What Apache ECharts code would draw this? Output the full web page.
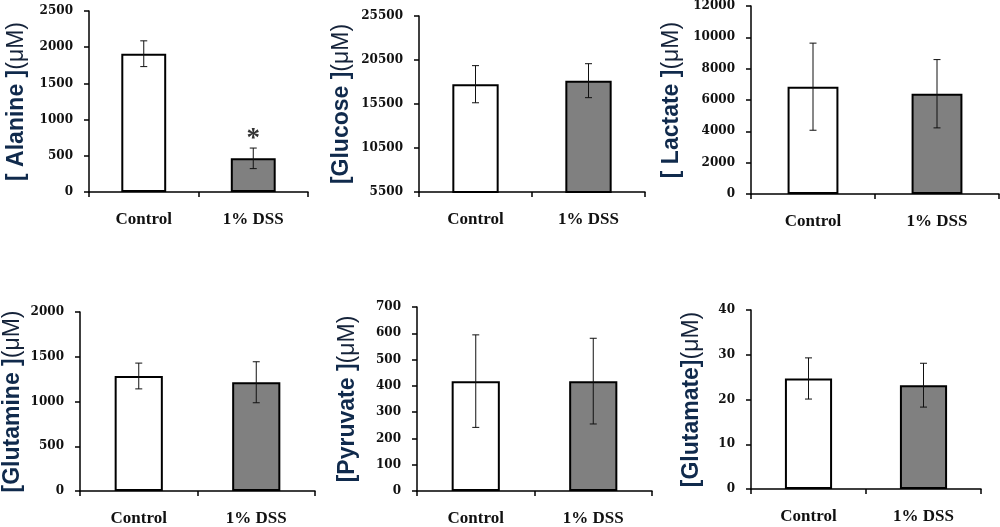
<!DOCTYPE html>
<html><head><meta charset="utf-8">
<script src="https://cdn.jsdelivr.net/npm/echarts@6/dist/echarts.min.js"></script>
<style>html,body{margin:0;padding:0;background:#fff}#c{width:1000px;height:527px}</style>
</head><body><div id="c"></div>
<script>
const categories = ['Control', '1% DSS'];
const axisTitles = ['[ Alanine ]', '[Glucose ]', '[ Lactate ]', '[Glutamine ]', '[Pyruvate ]', '[Glutamate]'];
const unit = '(μM)';
const controlMean = [1910, 17750, 6850, 1285, 418, 24.7];
const controlErr  = [178, 2110, 2780, 144, 176, 4.6];
const dssMean     = [465, 18150, 6400, 1215, 418, 23.2];
const dssErr      = [142, 1930, 2180, 229, 163, 4.9];
const significance = [['', '*'], ['', ''], ['', ''], ['', ''], ['', ''], ['', '']];
const yMin  = [0, 5500, 0, 0, 0, 0];
const yMax  = [2500, 25500, 12000, 2000, 700, 40];
const yStep = [500, 5000, 2000, 500, 100, 10];

const layout = [
  {left: 89,  top: 11,  width: 219, height: 181, gap: 60},
  {left: 419, top: 16,  width: 226, height: 176, gap: 65},
  {left: 751, top: 6,   width: 248, height: 188, gap: 67},
  {left: 80,  top: 312, width: 235, height: 179, gap: 55},
  {left: 417, top: 307, width: 235, height: 189, gap: 57},
  {left: 751, top: 310, width: 230, height: 179, gap: 47}
];
const barFills = ['#ffffff', '#808080'];

const chart = echarts.init(document.getElementById('c'));
const grid = [], xAxis = [], yAxis = [], series = [];
layout.forEach((L, i) => {
  grid.push({left: L.left, top: L.top, width: L.width, height: L.height, containLabel: false});
  xAxis.push({
    type: 'category', gridIndex: i, data: categories,
    axisLine: {lineStyle: {color: '#000', width: 1.5}},
    axisTick: {show: true, length: 5, lineStyle: {color: '#000', width: 1.5}},
    axisLabel: {interval: 0, margin: 19, color: '#111', fontFamily: 'Liberation Serif', fontWeight: 'bold', fontSize: 17}
  });
  yAxis.push({
    type: 'value', gridIndex: i, min: yMin[i], max: yMax[i], interval: yStep[i],
    splitLine: {show: false},
    axisLine: {show: true, lineStyle: {color: '#000', width: 1.5}},
    axisTick: {show: true, length: 5, lineStyle: {color: '#000', width: 1.5}},
    axisLabel: {margin: 16, color: '#111', fontFamily: 'DejaVu Serif', fontWeight: 'bold', fontSize: 12,
      formatter: v => String(v)},
    name: '{b|' + axisTitles[i] + '}{u|' + unit + '}',
    nameLocation: 'middle', nameRotate: 90, nameGap: L.gap,
    nameTextStyle: {
      rich: {
        b: {fontFamily: 'Liberation Sans', fontWeight: 'bold', fontSize: 23, color: '#102A4C', lineHeight: 24},
        u: {fontFamily: 'Liberation Sans', fontWeight: 'normal', fontSize: 23, color: '#15233a', lineHeight: 24}
      }
    }
  });
  const means = [controlMean[i], dssMean[i]];
  const errs = [controlErr[i], dssErr[i]];
  series.push({
    type: 'bar', xAxisIndex: i, yAxisIndex: i, barWidth: '41%',
    data: means.map((v, k) => ({value: v, itemStyle: {color: barFills[k], borderColor: '#000', borderWidth: 2}})),
    silent: true, animation: false
  });
  series.push({
    type: 'custom', xAxisIndex: i, yAxisIndex: i, z: 5, silent: true, animation: false,
    data: means.map((v, k) => [k, v - errs[k], v + errs[k]]),
    renderItem: (params, api) => {
      const x = api.value(0);
      const hi = api.coord([x, api.value(2)]);
      const lo = api.coord([x, api.value(1)]);
      const cap = 3.5;
      const st = {stroke: '#111', lineWidth: 1};
      const children = [
        {type: 'line', shape: {x1: hi[0], y1: hi[1], x2: lo[0], y2: lo[1]}, style: st},
        {type: 'line', shape: {x1: hi[0] - cap, y1: hi[1], x2: hi[0] + cap, y2: hi[1]}, style: st},
        {type: 'line', shape: {x1: lo[0] - cap, y1: lo[1], x2: lo[0] + cap, y2: lo[1]}, style: st}
      ];
      const mark = significance[i][params.dataIndex];
      if (mark) {
        children.push({type: 'text', style: {text: mark, x: hi[0], y: hi[1] + 4, align: 'center', verticalAlign: 'bottom',
          font: 'bold 27px "Liberation Serif"', fill: '#333'}});
      }
      return {type: 'group', children};
    }
  });
});
chart.setOption({backgroundColor: '#fff', animation: false, grid, xAxis, yAxis, series});
</script></body></html>
